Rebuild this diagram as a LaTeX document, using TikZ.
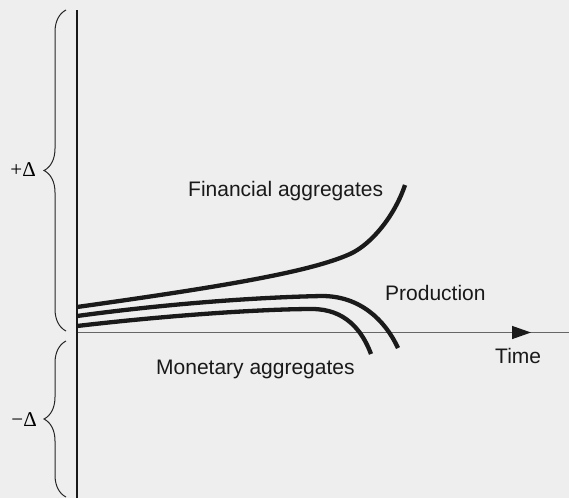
\documentclass[tikz,border=0pt]{standalone}
\usepackage{fontspec}
\setsansfont{Liberation Sans}
\newfontfamily\deltafont{Liberation Serif}
\usetikzlibrary{decorations.pathreplacing,arrows.meta}
\definecolor{bgc}{HTML}{EEEEEE}
\definecolor{axgray}{HTML}{666666}
\definecolor{curvec}{HTML}{1A1A1A}
\begin{document}
\begin{tikzpicture}[x=1pt,y=-1pt,
  lbl/.style={font=\sffamily\fontsize{21}{25}\selectfont, inner sep=0pt, text=black!90},
  dlbl/.style={font=\deltafont\fontsize{21}{25}\selectfont, inner sep=0pt},
  curve/.style={line width=4.3pt, color=curvec},
  bracestyle/.style={decorate, decoration={brace, amplitude=22pt}, line width=1pt, color=black!85}]
\fill[bgc] (0,0) rectangle (569,498);
\useasboundingbox (0,0) rectangle (569,498);
% axes
\coordinate (yt) at (77,10);
\coordinate (yb) at (77,498);
\coordinate (xl) at (77,332.5);
\coordinate (xr) at (569,332.5);
\coordinate (ah0) at (510,332.5);
\coordinate (ah1) at (531,332.5);
\draw[axgray, line width=1.4pt] (xl) -- (xr);
\draw[axgray, line width=1.4pt, -{Triangle[length=19pt,width=13pt,color=curvec]}] (ah0) -- (ah1);
% curves
\draw[curve] (77,307) .. controls (220,287) and (310,272) .. (350,254) .. controls (372,244) and (395,215) .. (405,185);
\draw[curve] (77,316) .. controls (180,302) and (270,297) .. (322,296) .. controls (360,296) and (385,320) .. (398,348);
\draw[curve] (77,326) .. controls (180,314) and (270,309) .. (312,309) .. controls (345,309) and (362,330) .. (371,354);
\draw[black!90, line width=1.2pt] (yt) -- (yb);
% braces
\coordinate (b1a) at (66,331);
\coordinate (b1b) at (66,10);
\coordinate (b2a) at (66,497);
\coordinate (b2b) at (66,341);
\draw[bracestyle] (b1a) -- (b1b);
\draw[bracestyle] (b2a) -- (b2b);
% labels
\node[dlbl, anchor=base east] (plus) at (36,176) {+Δ};
\node[dlbl, anchor=base east] (minus) at (37,426) {−Δ};
\node[lbl, anchor=base west] (fin) at (188,196) {Financial aggregates};
\node[lbl, anchor=base west] (mon) at (156,374) {Monetary aggregates};
\node[lbl, anchor=base west] (prod) at (385,300) {Production};
\node[lbl, anchor=base west] (time) at (495,363) {Time};
\end{tikzpicture}
\end{document}
